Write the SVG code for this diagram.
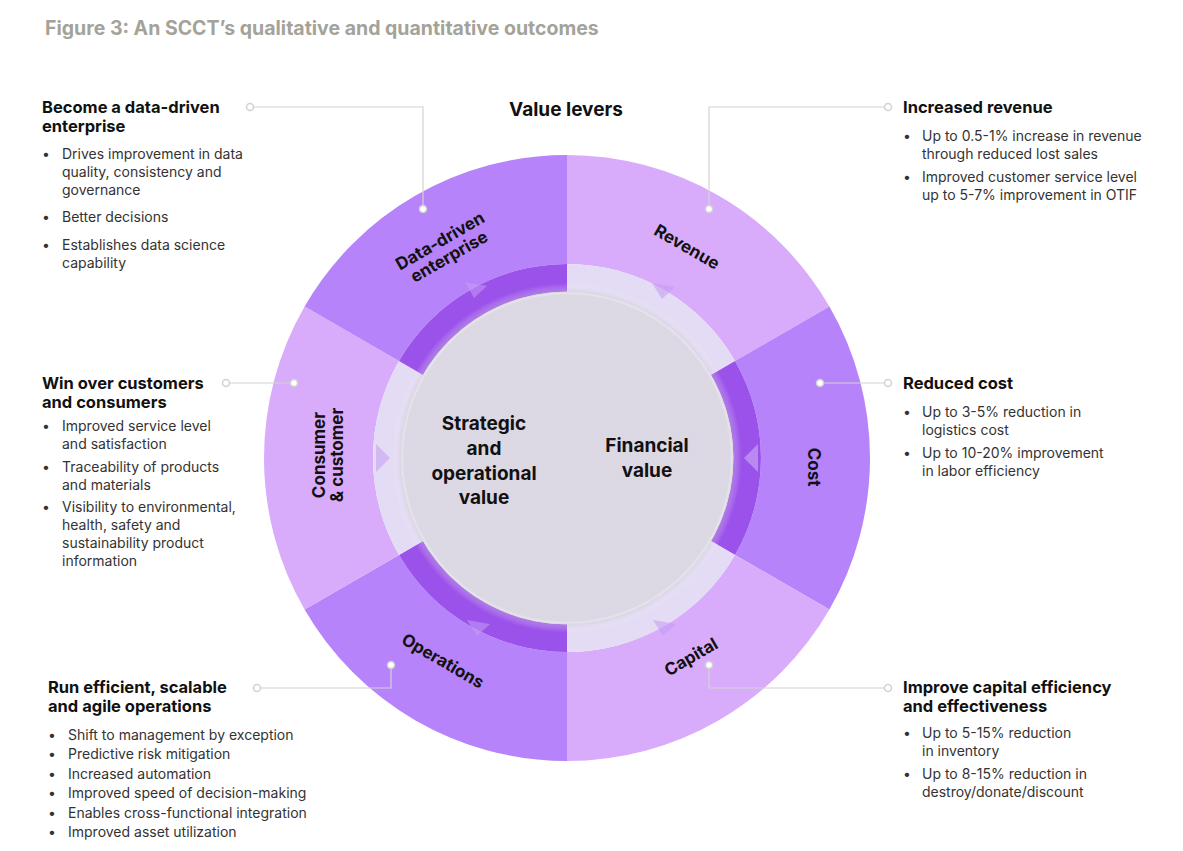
<svg xmlns="http://www.w3.org/2000/svg" width="1183" height="851" viewBox="0 0 1183 851">
<defs>
<style>
.t{font-family:Inter,"Liberation Sans",sans-serif;}
.h{font-family:Inter,"Liberation Sans",sans-serif;font-weight:700;font-size:16.5px;fill:#111;}
.b{font-family:Inter,"Liberation Sans",sans-serif;font-size:14px;fill:#333;}
.r{font-family:Inter,"Liberation Sans",sans-serif;font-weight:700;font-size:17px;fill:#111;text-anchor:middle;}
.c{font-family:Inter,"Liberation Sans",sans-serif;font-weight:700;font-size:19px;fill:#111;text-anchor:middle;}
.ln{stroke:#d2d2d2;stroke-width:1.2;fill:none;}
.dot{fill:#fff;stroke:#d2d2d2;stroke-width:1.5;}
.dk{fill:#b683fa;}
.lt{fill:#d9acfb;}
.idk{fill:#9b52ea;}
.ilt{fill:#e4dcf4;}
</style>
<radialGradient id="wg" cx="567" cy="458" r="194" gradientUnits="userSpaceOnUse">
<stop offset="0.84" stop-color="#b8b0c8"/><stop offset="0.9" stop-color="#fff" stop-opacity="0"/>
</radialGradient>
</defs>
<rect width="1183" height="851" fill="#fff"/>
<text class="t" x="45" y="35" font-size="19.5" font-weight="700" fill="#a3a39a">Figure 3: An SCCT’s qualitative and quantitative outcomes</text>
<text class="t" x="566" y="116" font-size="19" font-weight="700" fill="#111" text-anchor="middle">Value levers</text>

<g id="ring">
<!-- outer sectors R=303 inner 194, center 567,458 -->
<path class="lt" d="M567,155 A303,303 0 0 1 829.4,306.5 L735,361 A194,194 0 0 0 567,264 Z"/>
<path class="dk" d="M829.4,306.5 A303,303 0 0 1 829.4,609.5 L735,555 A194,194 0 0 0 735,361 Z"/>
<path class="lt" d="M829.4,609.5 A303,303 0 0 1 567,761 L567,652 A194,194 0 0 0 735,555 Z"/>
<path class="dk" d="M567,761 A303,303 0 0 1 304.6,609.5 L399,555 A194,194 0 0 0 567,652 Z"/>
<path class="lt" d="M304.6,609.5 A303,303 0 0 1 304.6,306.5 L399,361 A194,194 0 0 0 399,555 Z"/>
<path class="dk" d="M304.6,306.5 A303,303 0 0 1 567,155 L567,264 A194,194 0 0 0 399,361 Z"/>
<!-- inner band -->
<path class="ilt" d="M567,264 A194,194 0 0 1 735,361 L711,375 A166,166 0 0 0 567,292 Z"/>
<path class="idk" d="M735,361 A194,194 0 0 1 735,555 L711,541 A166,166 0 0 0 711,375 Z"/>
<path class="ilt" d="M735,555 A194,194 0 0 1 567,652 L567,624 A166,166 0 0 0 711,541 Z"/>
<path class="idk" d="M567,652 A194,194 0 0 1 399,555 L423,541 A166,166 0 0 0 567,624 Z"/>
<path class="ilt" d="M399,555 A194,194 0 0 1 399,361 L423,375 A166,166 0 0 0 423,541 Z"/>
<path class="idk" d="M399,361 A194,194 0 0 1 567,264 L567,292 A166,166 0 0 0 423,375 Z"/>
<circle cx="567" cy="458" r="194" fill="url(#wg)" opacity="0.5"/>
<!-- arrowheads -->
<g opacity="0.55">
<path d="M465,282 L487,286 L474,298 Z" fill="#c79cf5"/>
<path d="M652,283 L675,287 L662,299 Z" fill="#c49af3"/>
<path d="M758,444 L744,458 L758,472 Z" fill="#d3b6f7"/>
<path d="M376,444 L390,458 L376,472 Z" fill="#c79cf5"/>
<path d="M467,620 L490,624 L477,636 Z" fill="#c79cf5"/>
<path d="M653,620 L676,624 L663,636 Z" fill="#c49af3"/>
</g>
<line x1="567" y1="292" x2="567" y2="624" stroke="#dadce0" stroke-width="1"/>
<circle cx="567" cy="458" r="166" fill="none" stroke="#ddd" stroke-width="1"/>
</g>

<g id="center-left"><text class="c"><tspan x="484" y="430">Strategic</tspan><tspan x="484" y="455">and</tspan><tspan x="484" y="480">operational</tspan><tspan x="484" y="504">value</tspan></text></g>
<g id="center-right"><text class="c"><tspan x="647" y="452">Financial</tspan><tspan x="647" y="477">value</tspan></text></g>

<g id="ring-labels">
<text class="r" transform="translate(443,246) rotate(-30)"><tspan x="0" y="0">Data-driven</tspan><tspan x="0" y="18">enterprise</tspan></text>
<text class="r" transform="translate(684,252) rotate(30)">Revenue</text>
<text class="r" transform="translate(808,467) rotate(90)">Cost</text>
<text class="r" transform="translate(694,662) rotate(-30)">Capital</text>
<text class="r" transform="translate(440,666) rotate(30)">Operations</text>
<text class="r" transform="translate(334,455) rotate(-90)"><tspan x="0" y="-9">Consumer</tspan><tspan x="0" y="9">&amp; customer</tspan></text>
</g>

<g id="connectors">
<path class="ln" d="M423,209 V107 H250"/>
<path class="ln" d="M709,209 V107 H888"/>
<path class="ln" d="M820,383 H888"/>
<path class="ln" d="M294,383 H226"/>
<path class="ln" d="M391,665 V688 H257"/>
<path class="ln" d="M709,665 V688 H888"/>
<circle class="dot" cx="423" cy="209" r="3.5"/><circle class="dot" cx="250" cy="107" r="3.5"/>
<circle class="dot" cx="709" cy="209" r="3.5"/><circle class="dot" cx="888" cy="107" r="3.5"/>
<circle class="dot" cx="820" cy="383" r="3.5"/><circle class="dot" cx="888" cy="383" r="3.5"/>
<circle class="dot" cx="294" cy="383" r="3.5"/><circle class="dot" cx="226" cy="383" r="3.5"/>
<circle class="dot" cx="391" cy="665" r="3.5"/><circle class="dot" cx="257" cy="688" r="3.5"/>
<circle class="dot" cx="709" cy="665" r="3.5"/><circle class="dot" cx="888" cy="688" r="3.5"/>
</g>

<g id="data-driven">
<text class="h"><tspan x="42" y="113">Become a data-driven</tspan><tspan x="42" y="132">enterprise</tspan></text>
<text class="b"><tspan x="42" y="159">•</tspan><tspan x="62" y="159">Drives improvement in data</tspan><tspan x="62" y="177">quality, consistency and</tspan><tspan x="62" y="195">governance</tspan>
<tspan x="42" y="222">•</tspan><tspan x="62" y="222">Better decisions</tspan>
<tspan x="42" y="250">•</tspan><tspan x="62" y="250">Establishes data science</tspan><tspan x="62" y="268">capability</tspan></text>
</g>
<g id="consumer">
<text class="h"><tspan x="42" y="389">Win over customers</tspan><tspan x="42" y="408">and consumers</tspan></text>
<text class="b"><tspan x="42" y="431">•</tspan><tspan x="62" y="431">Improved service level</tspan><tspan x="62" y="449">and satisfaction</tspan>
<tspan x="42" y="472">•</tspan><tspan x="62" y="472">Traceability of products</tspan><tspan x="62" y="490">and materials</tspan>
<tspan x="42" y="512">•</tspan><tspan x="62" y="512">Visibility to environmental,</tspan><tspan x="62" y="530">health, safety and</tspan><tspan x="62" y="548">sustainability product</tspan><tspan x="62" y="566">information</tspan></text>
</g>
<g id="operations">
<text class="h"><tspan x="48" y="693">Run efficient, scalable</tspan><tspan x="48" y="712">and agile operations</tspan></text>
<text class="b"><tspan x="48" y="740">•</tspan><tspan x="68" y="740">Shift to management by exception</tspan>
<tspan x="48" y="759">•</tspan><tspan x="68" y="759">Predictive risk mitigation</tspan>
<tspan x="48" y="779">•</tspan><tspan x="68" y="779">Increased automation</tspan>
<tspan x="48" y="798">•</tspan><tspan x="68" y="798">Improved speed of decision-making</tspan>
<tspan x="48" y="818">•</tspan><tspan x="68" y="818">Enables cross-functional integration</tspan>
<tspan x="48" y="837">•</tspan><tspan x="68" y="837">Improved asset utilization</tspan></text>
</g>
<g id="revenue">
<text class="h" x="903" y="113">Increased revenue</text>
<text class="b"><tspan x="903" y="141">•</tspan><tspan x="922" y="141">Up to 0.5-1% increase in revenue</tspan><tspan x="922" y="159">through reduced lost sales</tspan>
<tspan x="903" y="182">•</tspan><tspan x="922" y="182">Improved customer service level</tspan><tspan x="922" y="200">up to 5-7% improvement in OTIF</tspan></text>
</g>
<g id="cost">
<text class="h" x="903" y="389">Reduced cost</text>
<text class="b"><tspan x="903" y="417">•</tspan><tspan x="922" y="417">Up to 3-5% reduction in</tspan><tspan x="922" y="435">logistics cost</tspan>
<tspan x="903" y="458">•</tspan><tspan x="922" y="458">Up to 10-20% improvement</tspan><tspan x="922" y="476">in labor efficiency</tspan></text>
</g>
<g id="capital">
<text class="h"><tspan x="903" y="693">Improve capital efficiency</tspan><tspan x="903" y="712">and effectiveness</tspan></text>
<text class="b"><tspan x="903" y="738">•</tspan><tspan x="922" y="738">Up to 5-15% reduction</tspan><tspan x="922" y="756">in inventory</tspan>
<tspan x="903" y="779">•</tspan><tspan x="922" y="779">Up to 8-15% reduction in</tspan><tspan x="922" y="797">destroy/donate/discount</tspan></text>
</g>
</svg>
